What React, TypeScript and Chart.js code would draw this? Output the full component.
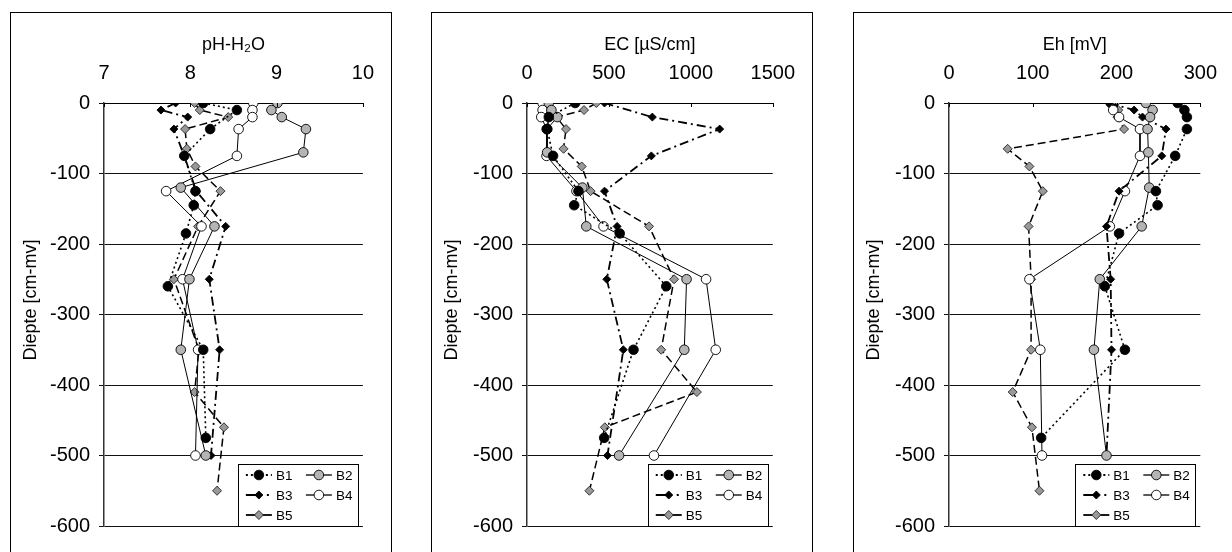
import React, { useEffect, useRef } from "react";
import { Chart, registerables } from "chart.js";

Chart.register(...registerables);

// ---------- data ----------
const seriesNames = ["B1", "B2", "B3", "B4", "B5"];

const depthB1 = [0, -10, -20, -37, -75, -125, -145, -185, -260, -350, -475];
const depthB2 = [0, -10, -20, -37, -70, -120, -175, -250, -350, -500];
const depthB3 = [0, -10, -20, -37, -75, -125, -175, -250, -350, -500];
const depthB4 = [0, -10, -20, -37, -75, -125, -175, -250, -350, -500];
const depthB5 = [0, -10, -20, -37, -65, -90, -125, -175, -250, -350, -410, -460, -550];

const phB1 = [8.15, 8.54, null, 8.23, 7.93, 8.06, 8.04, 7.95, 7.74, 8.15, 8.18];
const phB2 = [9.01, 8.94, 9.06, 9.34, 9.31, 7.89, 8.28, 7.99, 7.89, 8.18];
const phB3 = [7.83, 7.66, 7.97, 7.81, 7.93, 8.07, 8.41, 8.22, 8.34, 8.24];
const phB4 = [8.73, 8.72, 8.72, 8.56, 8.54, 7.72, 8.13, 7.91, 8.09, 8.06];
const phB5 = [8.05, 8.11, 8.44, 7.94, 7.96, 8.06, 8.35, 8.09, 7.81, 8.1, 8.05, 8.39, 8.31];

const ecB1 = [294, null, 133, 123, 159, 314, 288, 566, 850, 650, 471];
const ecB2 = [133, 149, 185, 123, 123, 338, 362, 974, 960, 562];
const ecB3 = [473, null, 765, 1176, 759, 473, 550, 487, 588, 491];
const ecB4 = [95, 95, 87, 120, 119, 302, 467, 1093, 1152, 775];
const ecB5 = [423, 348, 180, 238, 223, 334, 388, 745, 898, 819, 1037, 475, 381];

const ehB1 = [273, 281, 284, 284, 270, 247, 249, 203, 186, 210, 110];
const ehB2 = [235, 243, 240, 237, 238, 239, 230, 180, 173, 188];
const ehB3 = [191, 221, 231, 259, 254, 203, 188, 193, 194, 188];
const ehB4 = [193, 196, 203, 228, 228, 210, 192, 96, 109, 111];
const ehB5 = [199, 202, 201, 209, 70, 96, 112, 95, 98, 98, 76, 99, 108];

const depthTicks = [0, -100, -200, -300, -400, -500, -600];
const depthTickLabels = ["0", "-100", "-200", "-300", "-400", "-500", "-600"];
const phTicks = [7, 8, 9, 10];
const phTickLabels = ["7", "8", "9", "10"];
const ecTicks = [0, 500, 1000, 1500];
const ecTickLabels = ["0", "500", "1000", "1500"];
const ehTicks = [0, 100, 200, 300];
const ehTickLabels = ["0", "100", "200", "300"];

const depthTitle = "Diepte [cm-mv]";
const phTitle = "pH-H\u2082O";
const ecTitle = "EC [\u00b5S/cm]";
const ehTitle = "Eh [mV]";

// ---------- styles ----------
const FONT = "'Liberation Sans', Arial, sans-serif";
const styles = [
  { dash: [2, 3], legendDash: [2, 3], width: 1.6, shape: "circle", r: 4.8, fill: "#000000", stroke: "#000000" },
  { dash: [], legendDash: [], width: 1, shape: "circle", r: 4.8, fill: "#b4b4b4", stroke: "#000000" },
  { dash: [9, 4, 2, 4], legendDash: [16, 5, 2, 10], width: 1.8, shape: "rectRot", r: 4, fill: "#000000", stroke: "#000000" },
  { dash: [], legendDash: [], width: 1, shape: "circle", r: 4.8, fill: "#ffffff", stroke: "#000000" },
  { dash: [8, 4], legendDash: [], width: 1.5, shape: "rectRot", r: 4.5, fill: "#999999", stroke: "#222222" },
];

const depths = [depthB1, depthB2, depthB3, depthB4, depthB5];

const panels = [
  {
    title: phTitle, min: 7, max: 10, ticks: phTicks, labels: phTickLabels,
    values: [phB1, phB2, phB3, phB4, phB5],
    box: { left: 10, top: 12 }, plotLeft: 104, plotRight: 366,
  },
  {
    title: ecTitle, min: 0, max: 1500, ticks: ecTicks, labels: ecTickLabels,
    values: [ecB1, ecB2, ecB3, ecB4, ecB5],
    box: { left: 431, top: 12 }, plotLeft: 527, plotRight: 778,
  },
  {
    title: ehTitle, min: 0, max: 300, ticks: ehTicks, labels: ehTickLabels,
    values: [ehB1, ehB2, ehB3, ehB4, ehB5],
    box: { left: 853, top: 12 }, plotLeft: 949, plotRight: 1205,
  },
];

const BOX_W = 382;
const CANVAS_H = 540;
const PLOT_TOP = 103;
const PLOT_BOTTOM = 526;

function drawMarker(ctx: CanvasRenderingContext2D, s: any, x: number, y: number) {
  ctx.save();
  ctx.setLineDash([]);
  ctx.beginPath();
  if (s.shape === "circle") {
    ctx.arc(x, y, s.r, 0, Math.PI * 2);
  } else {
    ctx.moveTo(x, y - s.r);
    ctx.lineTo(x + s.r, y);
    ctx.lineTo(x, y + s.r);
    ctx.lineTo(x - s.r, y);
    ctx.closePath();
  }
  ctx.fillStyle = s.fill;
  ctx.fill();
  ctx.lineWidth = 0.9;
  ctx.strokeStyle = s.stroke;
  ctx.stroke();
  ctx.restore();
}

const decorPlugin = {
  id: "decor",
  afterDraw(chart: any) {
    const ctx: CanvasRenderingContext2D = chart.ctx;
    const area = chart.chartArea;
    const xs = chart.scales.x;
    // inward tick marks on the top axis
    ctx.save();
    ctx.strokeStyle = "#000";
    ctx.lineWidth = 1;
    xs.ticks.forEach((t: any) => {
      const px = Math.round(xs.getPixelForValue(t.value)) + 0.5;
      ctx.beginPath();
      ctx.moveTo(px, area.top);
      ctx.lineTo(px, area.top + 4);
      ctx.stroke();
    });
    ctx.restore();

    // y-axis title
    ctx.save();
    ctx.translate(21, 288);
    ctx.rotate(-Math.PI / 2);
    ctx.font = `18px ${FONT}`;
    ctx.fillStyle = "#000";
    ctx.textAlign = "center";
    ctx.textBaseline = "middle";
    ctx.fillText(depthTitle, 0, 0);
    ctx.restore();

    // legend box
    const bw = 120, bh = 62;
    const bx = area.right - 5 - bw;
    const by = area.bottom - bh;
    ctx.save();
    ctx.fillStyle = "#fff";
    ctx.fillRect(bx, by, bw, bh);
    ctx.strokeStyle = "#000";
    ctx.lineWidth = 1;
    ctx.strokeRect(Math.round(bx) + 0.5, Math.round(by) + 0.5, bw, bh);
    const pos = [
      [0, 0], [1, 0], [0, 1], [1, 1], [0, 2],
    ];
    ctx.font = `13.5px ${FONT}`;
    ctx.textBaseline = "middle";
    ctx.textAlign = "left";
    seriesNames.forEach((name, i) => {
      const s = styles[i];
      const col = pos[i][0], row = pos[i][1];
      const x0 = bx + 8 + col * 60;
      const y = by + 11 + row * 20;
      ctx.save();
      ctx.strokeStyle = "#000";
      ctx.lineWidth = s.width + 0.3;
      ctx.setLineDash(s.legendDash);
      ctx.beginPath();
      ctx.moveTo(x0, y);
      ctx.lineTo(x0 + 26, y);
      ctx.stroke();
      ctx.restore();
      drawMarker(ctx, s, x0 + 13, y);
      ctx.fillStyle = "#000";
      ctx.fillText(name, x0 + 30, y + 1);
    });
    ctx.restore();
  },
};

function Panel({ p }: { p: any }) {
  const ref = useRef<HTMLCanvasElement>(null);
  useEffect(() => {
    if (!ref.current) return;
    const yAxisWidth = p.plotLeft - p.box.left;
    const xAxisHeight = PLOT_TOP - p.box.top;
    const rightPad = BOX_W - (p.plotRight - p.box.left);
    const bottomPad = CANVAS_H - (PLOT_BOTTOM - p.box.top);
    const datasets = seriesNames.map((name, i) => {
      const s = styles[i];
      const vals = p.values[i];
      const pts = depths[i]
        .map((d: number, k: number) => ({ x: vals[k], y: d }))
        .filter((pt: any) => pt.x !== null && pt.x !== undefined);
      return {
        label: name,
        data: pts,
        showLine: true,
        borderColor: "#000",
        borderWidth: s.width,
        borderDash: s.dash,
        pointStyle: s.shape,
        pointRadius: s.r,
        pointHoverRadius: s.r,
        pointBackgroundColor: s.fill,
        pointBorderColor: s.stroke,
        pointBorderWidth: 0.9,
        fill: false,
        tension: 0,
      };
    });
    const chart = new Chart(ref.current, {
      type: "scatter",
      data: { datasets },
      options: {
        responsive: false,
        animation: false,
        layout: { padding: { left: 0, top: 0, right: rightPad, bottom: bottomPad } },
        plugins: { legend: { display: false }, tooltip: { enabled: false } },
        scales: {
          x: {
            type: "linear",
            position: "top",
            min: p.min,
            max: p.max,
            afterBuildTicks: (s: any) => { s.ticks = p.ticks.map((v: number) => ({ value: v })); },
            afterFit: (s: any) => { s.height = xAxisHeight; },
            grid: { display: false, drawTicks: false },
            border: { display: true, color: "#000", width: 1 },
            ticks: {
              autoSkip: false,
              maxRotation: 0,
              padding: 18,
              color: "#000",
              font: { family: FONT, size: 20 },
              callback: (v: any) => p.labels[p.ticks.indexOf(v)] ?? "",
            },
            title: {
              display: true,
              text: p.title,
              color: "#000",
              font: { family: FONT, size: 18 },
              padding: { top: 22, bottom: 0 },
            },
          },
          y: {
            type: "linear",
            min: -600,
            max: 0,
            afterBuildTicks: (s: any) => { s.ticks = depthTicks.map((v) => ({ value: v })); },
            afterFit: (s: any) => { s.width = yAxisWidth; },
            grid: { display: true, color: "#111", lineWidth: 1, drawTicks: true, tickLength: 5 },
            border: { display: true, color: "#333", width: 1.5 },
            ticks: {
              autoSkip: false,
              padding: 9,
              color: "#000",
              font: { family: FONT, size: 20 },
              callback: (v: any) => depthTickLabels[depthTicks.indexOf(v)] ?? "",
            },
            title: { display: false },
          },
        },
      },
      plugins: [decorPlugin],
    } as any);
    return () => chart.destroy();
  }, []);
  return (
    <>
      <div
        style={{
          position: "absolute",
          left: p.box.left,
          top: p.box.top,
          width: BOX_W,
          height: 560,
          border: "1.5px solid #000",
          boxSizing: "border-box",
        }}
      />
      <canvas
        ref={ref}
        width={BOX_W}
        height={CANVAS_H}
        style={{ position: "absolute", left: p.box.left, top: p.box.top, width: BOX_W, height: CANVAS_H }}
      />
    </>
  );
}

export default function App() {
  return (
    <div
      style={{
        position: "fixed",
        left: 0,
        top: 0,
        width: 1232,
        height: 552,
        overflow: "hidden",
        background: "#fff",
      }}
    >
      {panels.map((p, i) => (
        <Panel key={i} p={p} />
      ))}
    </div>
  );
}
